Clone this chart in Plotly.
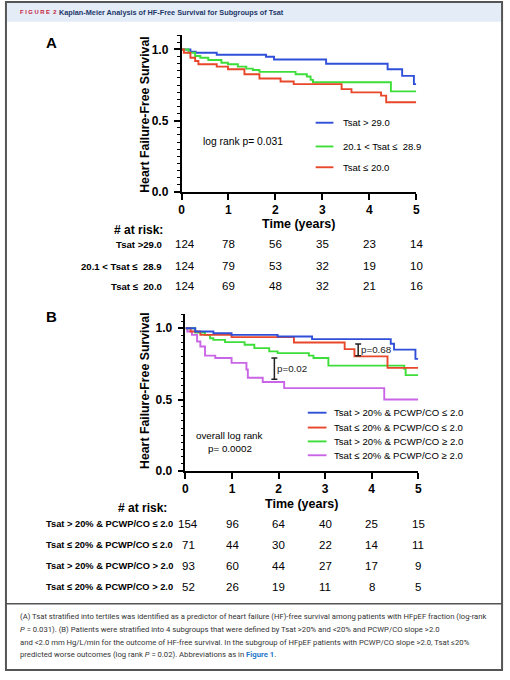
import plotly.graph_objects as go

W, H = 510, 680

# ---- panel A: Kaplan-Meier steps (time in years, survival) ----
a_hi_t = [0, 0.19, 0.30, 0.75, 1.80, 1.97, 3.08, 4.39, 4.70, 4.95, 5.0]
a_hi_s = [1.0, 0.984, 0.977, 0.963, 0.949, 0.930, 0.900, 0.861, 0.815, 0.757, 0.757]
a_mid_t = [0, 0.15, 0.29, 0.40, 0.57, 0.85, 0.99, 1.20, 1.38, 1.52, 1.66, 2.43, 2.67, 2.75, 2.80, 4.46, 5.0]
a_mid_s = [1.0, 0.977, 0.954, 0.942, 0.926, 0.907, 0.896, 0.880, 0.866, 0.856, 0.843, 0.826, 0.810, 0.787, 0.770, 0.706, 0.706]
a_lo_t = [0, 0.05, 0.19, 0.29, 0.36, 0.75, 0.99, 1.34, 1.66, 2.11, 2.39, 3.41, 3.62, 4.25, 4.36, 5.0]
a_lo_s = [1.0, 0.977, 0.942, 0.919, 0.896, 0.880, 0.861, 0.826, 0.796, 0.775, 0.757, 0.722, 0.699, 0.676, 0.630, 0.630]

a_names = ["Tsat > 29.0", "20.1 &lt; Tsat ≤  28.9", "Tsat ≤ 20.0"]
a_risk_labels = ["Tsat &gt;29.0", "20.1 &lt; Tsat ≤  28.9", "Tsat ≤  20.0"]
a_risk = [
    [124, 78, 56, 35, 23, 14],
    [124, 79, 53, 32, 19, 10],
    [124, 69, 48, 32, 21, 16],
]

# ---- panel B ----
b1_t = [0, 0.21, 0.60, 0.99, 1.98, 2.72, 4.41, 4.48, 4.94, 5.0]
b1_s = [1.0, 0.977, 0.965, 0.954, 0.942, 0.924, 0.891, 0.850, 0.785, 0.785]
b2_t = [0, 0.11, 0.32, 0.99, 2.33, 3.42, 3.63, 4.34, 5.0]
b2_s = [1.0, 0.977, 0.954, 0.938, 0.900, 0.854, 0.803, 0.722, 0.722]
b3_t = [0, 0.21, 0.42, 0.53, 0.60, 0.85, 1.27, 1.48, 1.80, 1.98, 2.65, 2.75, 3.07, 4.70, 4.73, 5.0]
b3_s = [1.0, 0.970, 0.954, 0.930, 0.919, 0.903, 0.884, 0.861, 0.838, 0.826, 0.808, 0.792, 0.738, 0.715, 0.671, 0.671]
b4_t = [0, 0.04, 0.14, 0.25, 0.32, 0.42, 0.64, 0.99, 1.31, 1.34, 1.66, 2.12, 4.27, 5.0]
b4_s = [1.0, 0.977, 0.954, 0.907, 0.872, 0.808, 0.792, 0.757, 0.711, 0.653, 0.623, 0.580, 0.500, 0.500]

b_names = [
    "Tsat &gt; 20% &amp; PCWP/CO ≤ 2.0",
    "Tsat ≤ 20% &amp; PCWP/CO ≤ 2.0",
    "Tsat &gt; 20% &amp; PCWP/CO ≥ 2.0",
    "Tsat ≤ 20% &amp; PCWP/CO ≥ 2.0",
]
b_risk_labels = [
    "Tsat &gt; 20% &amp; PCWP/CO ≤ 2.0",
    "Tsat ≤ 20% &amp; PCWP/CO ≤ 2.0",
    "Tsat &gt; 20% &amp; PCWP/CO &gt; 2.0",
    "Tsat ≤ 20% &amp; PCWP/CO &gt; 2.0",
]
b_risk = [
    [154, 96, 64, 40, 25, 15],
    [71, 44, 30, 22, 14, 11],
    [93, 60, 44, 27, 17, 9],
    [52, 26, 19, 11, 8, 5],
]

# pairwise comparison bars: time, low, high, label
cmp_t = [1.91, 3.71]
cmp_lo = [0.642, 0.808]
cmp_hi = [0.792, 0.889]
cmp_txt = ["p=0.02", "p=0.68"]

years = [0, 1, 2, 3, 4, 5]

BLUE = "#2f4fd8"
RED = "#e8472b"
GREEN = "#3ede3a"
PURPLE = "#c965e6"
FONT = "Liberation Sans"


def px(x):
    return x / W


def py(y):
    return 1 - y / H


fig = go.Figure()

for t, s, c in [(a_hi_t, a_hi_s, BLUE), (a_mid_t, a_mid_s, GREEN), (a_lo_t, a_lo_s, RED)]:
    fig.add_trace(go.Scatter(x=t, y=s, mode="lines", line=dict(color=c, width=1.9, shape="hv"),
                             xaxis="x", yaxis="y", showlegend=False, hoverinfo="skip"))

for t, s, c in [(b4_t, b4_s, PURPLE), (b3_t, b3_s, GREEN), (b2_t, b2_s, RED), (b1_t, b1_s, BLUE)]:
    fig.add_trace(go.Scatter(x=t, y=s, mode="lines", line=dict(color=c, width=1.9, shape="hv"),
                             xaxis="x2", yaxis="y2", showlegend=False, hoverinfo="skip"))

mid = [(lo + hi) / 2 for lo, hi in zip(cmp_lo, cmp_hi)]
half = [(hi - lo) / 2 for lo, hi in zip(cmp_lo, cmp_hi)]
fig.add_trace(go.Scatter(x=cmp_t, y=mid, mode="markers", marker=dict(size=1, opacity=0),
                         error_y=dict(type="data", array=half, visible=True, color="#222",
                                      thickness=1.5, width=3),
                         xaxis="x2", yaxis="y2", showlegend=False, hoverinfo="skip"))

axis_common = dict(
    range=[0, 5], showline=True, linecolor="black", linewidth=1.6, ticks="outside",
    tickcolor="black", tickwidth=1.6, ticklen=6, showgrid=False, zeroline=False,
    tickvals=years, tickfont=dict(family=FONT, size=12, color="black", weight="bold"),
)
yaxis_common = dict(
    range=[0, 1.1], showline=True, linecolor="black", linewidth=1.6, ticks="outside",
    tickcolor="black", tickwidth=1.6, ticklen=6, showgrid=False, zeroline=False,
    tick0=0, dtick=0.5, tickformat=".1f", ticklabelstandoff=3,
    tickfont=dict(family=FONT, size=12, color="black", weight="bold"),
    minor=dict(dtick=0.05, ticks="outside", ticklen=3, tickcolor="black", tickwidth=1.2),
)

fig.update_layout(
    width=W, height=H, margin=dict(l=0, r=0, t=0, b=0),
    paper_bgcolor="white", plot_bgcolor="white",
    xaxis=dict(domain=[px(181), px(419)], anchor="y", **axis_common),
    yaxis=dict(domain=[py(194), py(35.6)], anchor="x", **yaxis_common),
    xaxis2=dict(domain=[px(185), px(421)], anchor="y2", **axis_common),
    yaxis2=dict(domain=[py(475.7), py(317.3)], anchor="x2", **yaxis_common),
    font=dict(family=FONT, color="black"),
)

ann = []
shapes = []


def text(x, y, s, size, bold=False, xanchor="left", color="black", family=FONT, angle=0):
    ann.append(dict(x=px(x), y=py(y), xref="paper", yref="paper", text=s, showarrow=False,
                    xanchor=xanchor, yanchor="middle", textangle=angle, borderpad=0,
                    font=dict(family=family, size=size, color=color,
                              weight="bold" if bold else "normal")))


# frame, header band, caption separator
shapes.append(dict(type="rect", xref="paper", yref="paper", x0=px(4), x1=px(505), y0=py(3), y1=py(22),
                   fillcolor="#e4ecf8", line=dict(width=0), layer="below"))
shapes.append(dict(type="rect", xref="paper", yref="paper", x0=px(3), x1=px(506), y0=py(2), y1=py(677),
                   line=dict(color="#555", width=2)))
shapes.append(dict(type="line", xref="paper", yref="paper", x0=px(3), x1=px(506), y0=py(610), y1=py(610),
                   line=dict(color="#555", width=1.5)))

text(16, 12.5, "F I G U R E  2", 5.8, bold=True, color="#c8173a")
text(56, 12.5, "Kaplan-Meier Analysis of HF-Free Survival for Subgroups of Tsat", 7.3, bold=True,
     color="#1d3768")

# panel letters and axis titles
text(43, 43, "A", 15, bold=True)
text(43, 320, "B", 15, bold=True)
text(144, 116, "Heart Failure-Free Survival", 12.3, bold=True, xanchor="center", angle=-90)
text(144, 395, "Heart Failure-Free Survival", 12.3, bold=True, xanchor="center", angle=-90)
text(300, 226, "Time (years)", 12.5, bold=True, xanchor="center")
text(303, 509, "Time (years)", 12.5, bold=True, xanchor="center")

# panel A legend and note
for yy, name, c in zip([124, 148, 169], a_names, [BLUE, GREEN, RED]):
    shapes.append(dict(type="line", xref="paper", yref="paper", x0=px(317), x1=px(335),
                       y0=py(yy), y1=py(yy), line=dict(color=c, width=1.9)))
    text(344, yy, name, 9.5)
text(202, 143, "log rank p= 0.031", 10.3)

# panel B legend and notes
for yy, name, c in zip([417, 432, 446, 460], b_names, [BLUE, RED, GREEN, PURPLE]):
    shapes.append(dict(type="line", xref="paper", yref="paper", x0=px(309), x1=px(328),
                       y0=py(yy), y1=py(yy), line=dict(color=c, width=1.9)))
    text(335, yy, name, 9.6)
text(230, 440, "overall log rank", 9.8, xanchor="center")
text(230, 453, "p= 0.0002", 9.8, xanchor="center")
for t, lo, hi, s in zip(cmp_t, cmp_lo, cmp_hi, cmp_txt):
    ann.append(dict(x=t, y=(lo + hi) / 2, xref="x2", yref="y2", text=s, showarrow=False,
                    xanchor="left", yanchor="middle", xshift=1,
                    font=dict(family=FONT, size=9.8, color="#222")))

# at-risk tables
text(163, 232, "# at risk:", 12, bold=True, xanchor="right")
for yy, lab, row in zip([247, 269, 289], a_risk_labels, a_risk):
    text(162, yy, lab, 9.6, bold=True, xanchor="right")
    for t, n in zip(years, row):
        ann.append(dict(x=t, y=py(yy), xref="x", yref="paper", text=str(n), showarrow=False,
                        xanchor="center", yanchor="middle", xshift=3 if t == 0 else 0,
                        font=dict(family=FONT, size=11.5, color="black")))

text(167, 513, "# at risk:", 12, bold=True, xanchor="right")
for yy, lab, row in zip([529, 551, 572, 593], b_risk_labels, b_risk):
    text(173, yy, lab, 9.3, bold=True, xanchor="right")
    for t, n in zip(years, row):
        ann.append(dict(x=t, y=py(yy), xref="x2", yref="paper", text=str(n), showarrow=False,
                        xanchor="center", yanchor="middle", xshift=3 if t == 0 else 0,
                        font=dict(family=FONT, size=11.5, color="black")))

# caption
cap = [
    "(A) Tsat stratified into tertiles was identified as a predictor of heart failure (HF)-free survival "
    "among patients with HFpEF fraction (log-rank",
    "<i>P</i> = 0.031). (B) Patients were stratified into 4 subgroups that were defined by Tsat &gt;20% "
    "and &lt;20% and PCWP/CO slope &gt;2.0",
    "and &lt;2.0 mm Hg/L/min for the outcome of HF-free survival. In the subgroup of HFpEF patients "
    "with PCWP/CO slope &gt;2.0, Tsat ≤20%",
    "predicted worse outcomes (log rank <i>P</i> = 0.02). Abbreviations as in "
    "<span style='color:#1f78c8'><b>Figure 1</b></span>.",
]
for yy, line in zip([623, 636, 649, 661], cap):
    text(16, yy, line, 7.7, color="#333", family="Roboto")

fig.update_layout(annotations=ann, shapes=shapes)
# page body margin would otherwise shift the fixed-size figure
fig.write_html("out.html", config={"displayModeBar": False},
               post_script="document.body.style.margin='0';")
